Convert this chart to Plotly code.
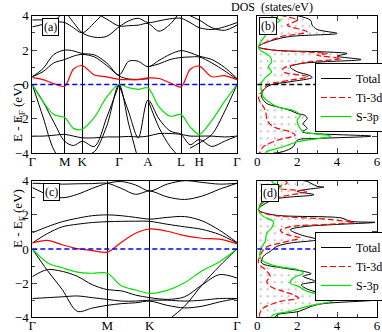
import plotly.graph_objects as go

# ---- band structure, panel (a): path G-M-K-G-A-L-H-G
k_a = [0, 10.8, 21.6, 32.4, 41.2, 50, 62.2, 74.5, 86.7, 96.4, 106, 115.7,
       126.7, 137.7, 148.7, 157.8, 167, 179.6, 192.1, 204.7]
ticks_a = [0, 32.4, 50, 86.7, 115.7, 148.7, 167, 204.7]
labels_a = ["Γ", "M", "K", "Γ", "A", "L", "H", "Γ"]

a_red = [0.40, 0.28, 0.05, -0.10, 0.90, 1.10, 0.55, 0.44, 0.30, 0.28, 0.28, 0.38,
         0.35, 0.10, -0.14, 0.87, 1.07, 0.45, 0.52, 0.28]
a_green = [0.0, -1.0, -1.75, -1.92, -2.55, -2.6, -1.9, -0.72, 0.0, -0.18, -0.28, -0.2,
           -1.3, -1.84, -1.75, -2.46, -2.89, -2.08, -1.0, 0.0]
N = None
a_black = [
    [0.45, 0.93, 1.75, 2.0, 1.95, 1.8, 1.72, 1.25, 0.55, 1.35, 1.35, 1.03, 1.4, 1.75, 1.97, 1.85, 1.65, 1.45, 1.0, 0.35],
    [0.45, 0.75, 1.26, 1.45, 1.65, 1.75, 1.6, 1.1, 0.5, 0.32, 0.3, 0.33, N, N, N, N, N, N, N, N],
    [N, N, N, N, N, N, N, N, N, N, N, 1.03, 1.2, 1.45, 1.57, 1.6, 1.6, 1.25, 0.8, 0.3],
    [3.35, 3.5, 3.7, 4.15, 3.6, 3.0, 2.75, 2.8, 3.35, 3.7, 3.85, 3.6, 3.7, 3.82, 3.85, 3.6, 3.3, 3.2, 3.35, 3.6],
    [3.75, 3.75, 3.65, 3.6, 3.3, 3.0, 3.6, 4.3, 4.6, N, N, N, N, N, N, N, N, N, N, N],
    [N, N, N, N, N, 4.6, 4.2, 3.8, 3.4, 3.42, 3.45, 3.55, 3.1, 3.5, 4.3, N, N, N, N, N],
    [N, N, N, N, N, N, N, N, N, N, N, N, N, N, 4.4, 4.0, 3.75, 3.3, 3.15, 3.45],
    [-3.0, -3.0, -2.95, -2.9, -3.0, -3.1, -3.1, -3.05, -3.05, -3.02, -3.05, -3.0, -2.85, -2.85, -2.9, -3.0, -3.0, -3.0, -3.05, -3.0],
    [0.0, -1.0, -2.2, -3.3, -3.55, -3.3, -3.6, -1.9, 0.0, N, N, N, N, N, N, N, N, N, N, N],
    [0.0, -1.9, -3.8, -4.6, -4.4, -4.2, -3.9, -2.4, 0.0, -2.3, -4.4, N, N, N, N, N, N, N, N, N],
    [N, N, N, N, N, N, N, N, 0.0, -1.6, -3.1, -0.9, -2.0, -2.7, -2.9, -3.5, -3.2, -3.6, -3.3, -3.0],
    [N, N, N, N, N, N, N, N, N, N, N, -0.9, -2.5, -3.6, -4.3, N, N, N, N, N],
    [N, N, N, N, N, N, N, N, N, N, N, N, N, N, N, -3.7, -3.4, -2.9, -1.6, 0.0],
]

# ---- band structure, panel (c): path G-M-K-G
k_c = [0, 15, 30, 45, 60, 75, 89.1, 103.3, 117.4, 134.9, 152.3, 169.8, 187.2, 204.7]
ticks_c = [0, 75, 117.4, 204.7]
labels_c = ["Γ", "M", "K", "Γ"]

c_red = [0.35, 0.5, 0.25, 0.02, -0.09, -0.18, 0.4, 0.92, 1.17, 1.04, 0.78, 0.63, 0.58, 0.31]
c_green = [0.0, -0.8, -1.1, -1.35, -1.42, -1.42, -2.15, -2.4, -2.6, -2.42, -1.98, -1.27, -0.75, 0.0]
c_black = [
    [0.95, 1.3, 1.6, 1.8, 1.95, 2.0, 1.95, 1.85, 1.75, 1.85, 1.9, 1.65, 1.1, 0.38],
    [0.35, 0.9, 1.3, 1.45, 1.55, 1.6, 1.62, 1.63, 1.62, 1.45, 1.3, 1.15, 0.85, 0.35],
    [3.85, 3.83, 3.8, 3.82, 3.83, 3.85, 3.55, 3.2, 3.4, 3.05, 2.9, 3.1, 3.5, 3.85],
    [3.6, 3.2, 3.0, 3.2, 3.55, 3.85, 3.95, 3.75, 3.4, 3.8, 4.0, 3.9, 3.8, 3.85],
    [-2.9, -2.85, -2.8, -2.75, -2.85, -2.95, -3.05, -3.05, -3.0, -3.0, -3.05, -3.0, -2.9, -2.9],
    [0.0, -1.25, -2.38, -3.65, -3.46, -3.3, -3.2, -3.15, -3.05, -3.3, -3.45, -3.35, -3.1, -2.9],
    [-1.62, -1.21, -1.31, -1.6, -2.09, -2.38, -2.45, -2.7, -2.85, -2.95, -2.8, -2.1, -1.5, -1.7],
    [N, N, N, N, N, N, N, N, N, -4.2, -3.35, -2.1, -1.0, 0.0],
]

# ---- DOS, panel (b)
b_tot_e = [4.03, 3.74, 3.45, 3.2, 2.97, 2.77, 2.38, 2.19, 2.0, 1.9, 1.8, 1.65, 1.45, 1.32, 1.22,
           1.03, 0.74, 0.54, 0.41, 0.16, -0.04, -0.33, -0.72, -1.1, -1.3, -1.5, -1.69, -1.8,
           -1.98, -2.27, -2.56, -2.75, -3.0, -3.14, -3.24, -3.62, -3.9, -4.0]
b_tot = [1.9, 2.67, 2.75, 3.0, 4.0, 1.5, 0.3, 0.05, 0.8, 3.3, 4.5, 4.0, 5.2, 3.3, 2.2,
         1.65, 2.0, 2.6, 2.75, 1.65, 0.64, 0.3, 0.22, 0.47, 1.0, 1.65, 2.0, 2.4,
         2.5, 2.3, 2.5, 2.25, 5.7, 3.0, 2.0, 1.8, 1.3, 0.8]
b_ti_e = [4.03, 3.74, 3.45, 3.06, 2.77, 2.38, 2.19, 2.0, 1.8, 1.7, 1.5, 1.3, 0.93, 0.74, 0.45,
          0.25, -0.04, -0.33, -0.72, -1.5, -2.1, -2.46, -2.75, -2.95, -3.24, -3.62, -3.9, -4.0]
b_ti = [1.15, 2.0, 1.5, 2.5, 1.15, 0.3, 0.05, 0.8, 3.5, 3.0, 4.2, 2.5, 1.3, 1.3, 2.55,
        1.65, 0.47, 0.3, 0.05, 0.4, 0.5, 0.8, 1.65, 1.9, 1.0, 0.3, 0.15, 0.1]
b_s_e = [4.03, 3.85, 3.74, 3.35, 2.97, 2.38, 2.19, 2.0, 1.6, 1.32, 1.03, 0.74, 0.4, 0.06, -0.33,
         -0.72, -1.3, -1.5, -1.8, -2.07, -2.56, -2.75, -3.0, -3.33, -3.62, -3.9, -4.0]
b_s = [0.65, 0.9, 1.15, 0.65, 0.47, 0.13, 0.05, 0.15, 0.65, 0.72, 0.55, 0.72, 0.4, 0.2, 0.2,
       0.3, 1.0, 1.8, 2.15, 2.0, 2.15, 2.3, 3.7, 2.0, 1.3, 0.47, 0.4]

# ---- DOS, panel (d)
d_tot_e = [4.0, 3.96, 3.67, 3.63, 3.38, 3.18, 2.89, 2.3, 2.0, 1.82, 1.62, 1.56, 1.43, 1.33, 1.13,
           0.84, 0.55, 0.35, 0.16, -0.14, -0.43, -0.82, -1.11, -1.3, -1.45, -1.6, -1.9, -2.09,
           -2.29, -2.5, -2.75, -2.97, -3.2, -3.36, -3.65, -3.85, -4.0]
d_tot = [2.3, 2.5, 3.0, 3.34, 2.0, 2.83, 0.8, 0.05, 0.8, 4.2, 4.7, 5.9, 3.85, 2.5, 1.65,
         2.15, 3.0, 1.65, 1.0, 0.64, 0.3, 0.22, 1.3, 2.3, 2.7, 2.3, 2.9, 2.2,
         2.4, 2.9, 4.2, 6.0, 3.3, 2.7, 2.1, 1.0, 0.9]
d_ti_e = [4.0, 3.87, 3.57, 3.38, 3.09, 2.8, 2.3, 2.0, 1.76, 1.68, 1.56, 1.43, 1.33, 1.1, 0.84,
          0.65, 0.39, 0.12, -0.2, -0.82, -1.21, -1.6, -1.9, -2.19, -2.48, -2.68, -2.87, -3.07,
          -3.46, -3.75, -4.0]
d_ti = [1.4, 1.5, 1.0, 2.5, 1.3, 0.3, 0.05, 0.65, 3.34, 4.0, 4.85, 3.34, 1.8, 1.15, 1.5,
        2.15, 1.3, 0.47, 0.22, 0.05, 0.4, 0.65, 0.47, 0.65, 1.3, 1.8, 2.07, 1.15,
        0.3, 0.13, 0.1]
d_s_e = [4.0, 3.87, 3.67, 3.48, 2.89, 2.5, 2.3, 1.91, 1.62, 1.23, 0.94, 0.45, 0.06, -0.43, -0.72,
         -1.02, -1.2, -1.4, -1.7, -2.0, -2.19, -2.48, -2.77, -2.97, -3.36, -3.65, -3.85, -4.0]
d_s = [0.7, 0.8, 1.2, 1.0, 0.47, 0.13, 0.05, 0.3, 0.8, 0.72, 0.47, 0.4, 0.2, 0.13, 0.3,
       1.0, 2.0, 2.3, 1.8, 1.65, 2.07, 2.5, 3.6, 3.9, 2.5, 1.65, 0.8, 0.7]

W, H = 382, 332
FONT = "Liberation Serif"
RED, GREEN, BLUE = "#ff0000", "#00e000", "#0000ff"


def px_x(x):
    return x / W


def px_y(y):
    return 1 - y / H


fig = go.Figure()


def spline(color, width=1.0, dash="solid"):
    return dict(color=color, width=width, dash=dash, shape="spline", smoothing=0.9)


# band panels
for k, blacks, red, green, xa, ya in [(k_a, a_black, a_red, a_green, "x", "y"),
                                     (k_c, c_black, c_red, c_green, "x3", "y3")]:
    for band in blacks:
        fig.add_trace(go.Scatter(x=k, y=band, mode="lines", line=spline("black"),
                                 xaxis=xa, yaxis=ya, showlegend=False, hoverinfo="skip"))
    fig.add_trace(go.Scatter(x=k, y=red, mode="lines", line=spline(RED, 1.2),
                             xaxis=xa, yaxis=ya, showlegend=False))
    fig.add_trace(go.Scatter(x=k, y=green, mode="lines", line=spline(GREEN, 1.2),
                             xaxis=xa, yaxis=ya, showlegend=False))

# DOS panels
for tot_e, tot, ti_e, ti, s_e, s, xa, ya, lg in [
        (b_tot_e, b_tot, b_ti_e, b_ti, b_s_e, b_s, "x2", "y2", "legend"),
        (d_tot_e, d_tot, d_ti_e, d_ti, d_s_e, d_s, "x4", "y4", "legend2")]:
    # dotted area under the total DOS
    fig.add_trace(go.Scatter(
        x=tot, y=tot_e, mode="lines", line=spline("black", 0),
        fill="tozerox", fillcolor="white",
        fillpattern=dict(shape=".", fgcolor="#666", bgcolor="white", size=7, solidity=0.08),
        xaxis=xa, yaxis=ya, showlegend=False, hoverinfo="skip"))
    fig.add_trace(go.Scatter(x=tot, y=tot_e, mode="lines", name="Total", line=spline("black"),
                             xaxis=xa, yaxis=ya, legend=lg))
    fig.add_trace(go.Scatter(x=ti, y=ti_e, mode="lines", name="Ti-3d",
                             line=spline(RED, 1.2, "6px,3px"), xaxis=xa, yaxis=ya, legend=lg))
    fig.add_trace(go.Scatter(x=s, y=s_e, mode="lines", name="S-3p",
                             line=spline(GREEN, 1.2), xaxis=xa, yaxis=ya, legend=lg))

dom_x_band = [px_x(32.3), px_x(237)]
dom_x_dos = [px_x(257.3), px_x(377)]
dom_y_top = [px_y(153.3), px_y(15.7)]
dom_y_bot = [px_y(317.3), px_y(180.7)]

axis_common = dict(showline=True, linecolor="black", linewidth=1, mirror=True,
                   zeroline=False, tickfont=dict(family=FONT, size=13, color="black"))

band_x = dict(axis_common, showgrid=True, gridcolor="black", gridwidth=1, ticks="",
              ticklabelstandoff=-4, tickfont=dict(family=FONT, size=13, color="black"))
band_y = dict(axis_common, range=[-4, 4], tickvals=[-4, -2, 0, 2, 4], ticks="inside",
              ticklen=5, showgrid=False, mirror="ticks",
              minor=dict(tickvals=[-3, -1, 1, 3], ticks="inside", ticklen=3))
dos_x = dict(axis_common, range=[0, 6], tickvals=[0, 2, 4, 6], ticks="inside", ticklen=5,
             showgrid=False, mirror="ticks", ticklabelstandoff=-4,
             minor=dict(tickvals=[1, 3, 5], ticks="inside", ticklen=3))
dos_y = dict(axis_common, range=[-4, 4], tickvals=[-3, -2, -1, 0, 1, 2, 3], ticks="inside",
             ticklen=5, showgrid=False, showticklabels=False, side="right")

legend_style = dict(xanchor="left", yanchor="top", bordercolor="black", borderwidth=1,
                    bgcolor="white", font=dict(family=FONT, size=12), itemwidth=30,
                    tracegroupgap=0)

fig.update_layout(
    width=W, height=H, margin=dict(l=0, r=0, t=0, b=0, autoexpand=False),
    paper_bgcolor="white", plot_bgcolor="white",
    font=dict(family=FONT, size=12, color="black"),
    xaxis=dict(band_x, domain=dom_x_band, range=[0, 204.7], tickvals=ticks_a, ticktext=labels_a, anchor="y"),
    yaxis=dict(band_y, domain=dom_y_top, anchor="x"),
    xaxis2=dict(dos_x, domain=dom_x_dos, anchor="y2"),
    yaxis2=dict(dos_y, domain=dom_y_top, anchor="x2"),
    xaxis3=dict(band_x, domain=dom_x_band, range=[0, 204.7], tickvals=ticks_c, ticktext=labels_c, anchor="y3"),
    yaxis3=dict(band_y, domain=dom_y_bot, anchor="x3"),
    xaxis4=dict(dos_x, domain=dom_x_dos, anchor="y4"),
    yaxis4=dict(dos_y, domain=dom_y_bot, anchor="x4"),
    legend=dict(legend_style, x=px_x(315), y=px_y(63)),
    legend2=dict(legend_style, x=px_x(315), y=px_y(232)),
)

# Fermi level lines
for xr, yr, color in [("x domain", "y", BLUE), ("x2 domain", "y2", "black"),
                      ("x3 domain", "y3", BLUE), ("x4 domain", "y4", BLUE)]:
    fig.add_shape(type="line", xref=xr, yref=yr, x0=0, x1=1, y0=0, y1=0,
                  line=dict(color=color, width=1.3, dash="5px,3px"))

# panel labels
for txt, cx, cy in [("(a)", 50, 26.7), ("(b)", 268, 25.8), ("(c)", 51.3, 191.7), ("(d)", 270.3, 192.5)]:
    fig.add_annotation(text=txt, x=px_x(cx), y=px_y(cy), xref="paper", yref="paper",
                       showarrow=False, xanchor="center", yanchor="middle",
                       bordercolor="black", borderwidth=1, borderpad=1, bgcolor="white",
                       font=dict(family=FONT, size=12))

for cy in [81, 250]:
    fig.add_annotation(text="E - E<sub>F</sub> (eV)", x=px_x(8), y=px_y(cy), xref="paper",
                       yref="paper", showarrow=False, textangle=-90,
                       font=dict(family=FONT, size=13))

fig.add_annotation(text="DOS  (states/eV)", x=px_x(315), y=px_y(7), xref="paper", yref="paper",
                   showarrow=False, yanchor="middle", font=dict(family=FONT, size=12))

fig.write_html("out.html", config={"displayModeBar": False},
               post_script="document.body.style.margin='0';")
